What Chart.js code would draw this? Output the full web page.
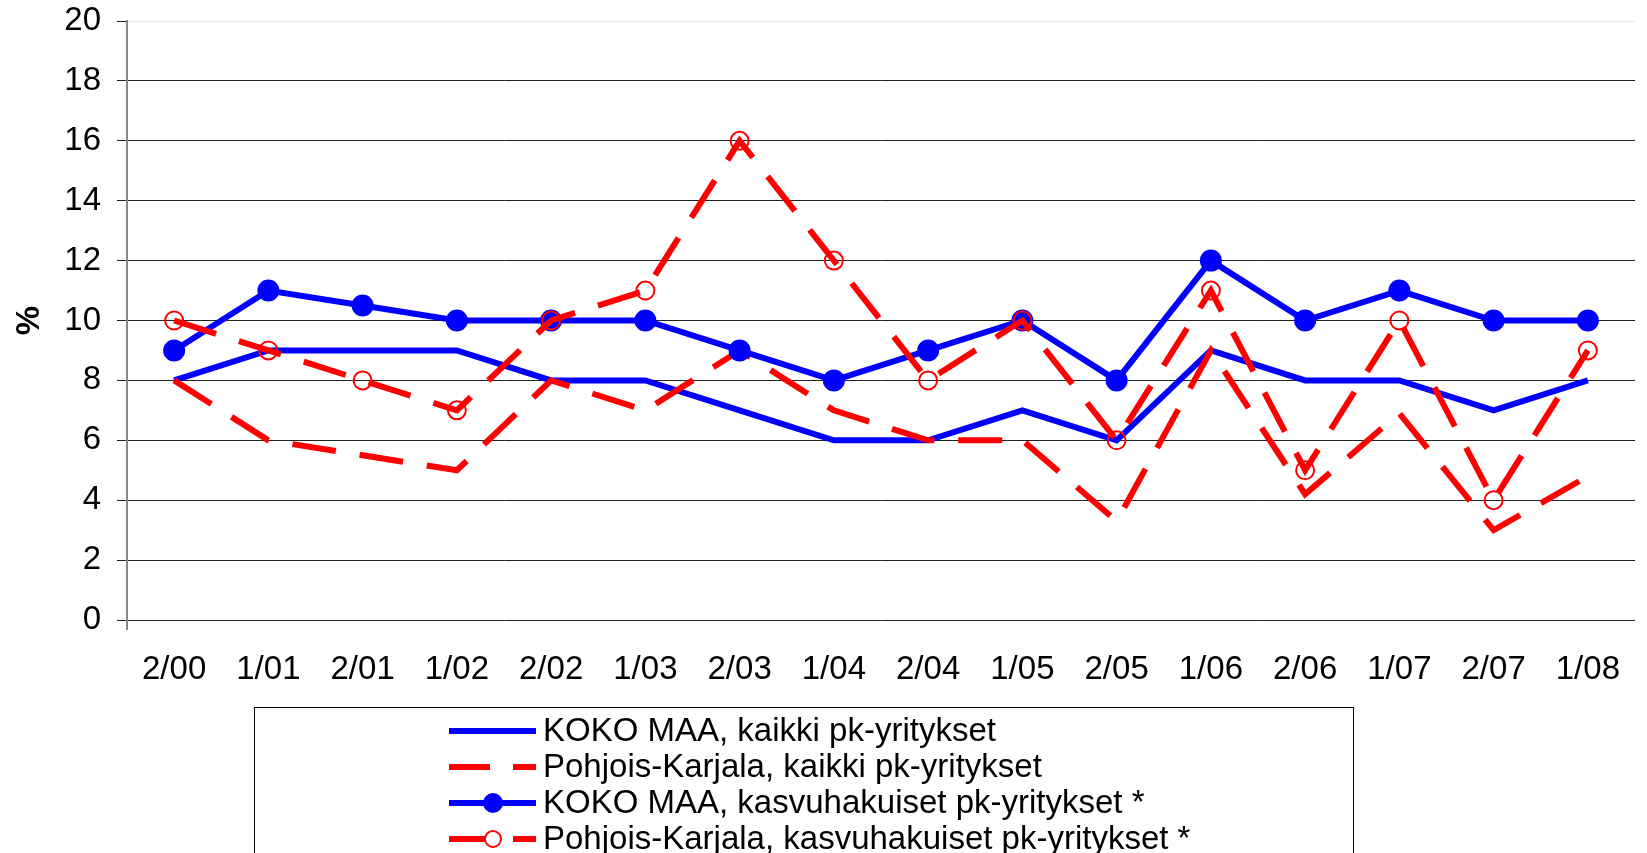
<!DOCTYPE html>
<html>
<head>
<meta charset="utf-8">
<script src="https://cdn.jsdelivr.net/npm/chart.js@4.4.1/dist/chart.umd.min.js"></script>
<style>
  html, body { margin: 0; padding: 0; background: #fff; overflow: hidden; }
  #wrap { width: 1647px; height: 853px; }
</style>
</head>
<body>
<div id="wrap"><canvas id="c" width="1647" height="853"></canvas></div>
<script>
const categories = ['2/00','1/01','2/01','1/02','2/02','1/03','2/03','1/04','2/04','1/05','2/05','1/06','2/06','1/07','2/07','1/08'];
const kokoMaaKaikki = [8, 9, 9, 9, 8, 8, 7, 6, 6, 7, 6, 9, 8, 8, 7, 8];
const pohjoisKarjalaKaikki = [8, 6, 5.5, 5, 8, 7, 9, 7, 6, 6, 3.3, 9, 4.2, 6.9, 3, 4.8];
const kokoMaaKasvu = [9, 11, 10.5, 10, 10, 10, 9, 8, 9, 10, 8, 12, 10, 11, 10, 10];
const pohjoisKarjalaKasvu = [10, 9, 8, 7, 10, 11, 16, 12, 8, 10, 6, 11, 5, 10, 4, 9];
const seriesLabels = [
  'KOKO MAA, kaikki pk-yritykset',
  'Pohjois-Karjala, kaikki pk-yritykset',
  'KOKO MAA, kasvuhakuiset pk-yritykset *',
  'Pohjois-Karjala, kasvuhakuiset pk-yritykset *'
];
const yAxisTitle = '%';
const yMin = 0, yMax = 20, yStep = 2;

const FONT = "'Liberation Sans', Arial, Helvetica, sans-serif";
const BLUE = '#0000ff';
const RED = '#ff0000';
const DASH = [44, 24];

const legendBox = {
  id: 'legendBox',
  afterDraw(chart) {
    const ctx = chart.ctx;
    ctx.save();
    ctx.strokeStyle = '#000';
    ctx.lineWidth = 1;
    ctx.strokeRect(254.5, 707.5, 1099, 200);
    const x0 = 449, x1 = 536, mx = 493, tx = 543;
    chart.data.datasets.forEach((ds, i) => {
      const y = 731 + 36 * i;
      ctx.save();
      ctx.strokeStyle = ds.borderColor;
      ctx.lineWidth = ds.borderWidth;
      ctx.lineCap = 'butt';
      ctx.setLineDash(ds.borderDash ? [41, 23] : []);
      ctx.beginPath();
      ctx.moveTo(x0, y);
      ctx.lineTo(x1, y);
      ctx.stroke();
      ctx.restore();
      if (ds.pointRadius > 0) {
        ctx.save();
        ctx.beginPath();
        ctx.arc(mx, y, ds.pointRadius - 1, 0, Math.PI * 2);
        if (ds.pointBackgroundColor && ds.pointBackgroundColor !== 'rgba(0,0,0,0)') {
          ctx.fillStyle = ds.pointBackgroundColor;
        } else {
          ctx.fillStyle = '#fff';
        }
        ctx.fill();
        ctx.lineWidth = ds.pointBorderWidth;
        ctx.strokeStyle = ds.pointBorderColor;
        ctx.stroke();
        ctx.restore();
      }
      ctx.fillStyle = '#000';
      ctx.font = '33px ' + FONT;
      ctx.textAlign = 'left';
      ctx.textBaseline = 'middle';
      ctx.fillText(ds.label, tx, y + 1);
    });
    ctx.restore();
  }
};

new Chart(document.getElementById('c'), {
  type: 'line',
  data: {
    labels: categories,
    datasets: [
      {
        label: seriesLabels[0], data: kokoMaaKaikki, order: 4,
        borderColor: BLUE, borderWidth: 6, pointRadius: 0, tension: 0, fill: false
      },
      {
        label: seriesLabels[1], data: pohjoisKarjalaKaikki, order: 3,
        borderColor: RED, borderWidth: 6, borderDash: DASH, pointRadius: 0, tension: 0, fill: false
      },
      {
        label: seriesLabels[2], data: kokoMaaKasvu, order: 2,
        borderColor: BLUE, borderWidth: 6, pointRadius: 10, pointBorderWidth: 2,
        pointBackgroundColor: BLUE, pointBorderColor: BLUE, tension: 0, fill: false
      },
      {
        label: seriesLabels[3], data: pohjoisKarjalaKasvu, order: 1,
        borderColor: RED, borderWidth: 6, borderDash: DASH, pointRadius: 9, pointBorderWidth: 2,
        pointBackgroundColor: 'rgba(0,0,0,0)', pointBorderColor: RED, tension: 0, fill: false
      }
    ]
  },
  options: {
    responsive: false,
    animation: false,
    devicePixelRatio: 1,
    layout: { padding: { top: 21, right: 2, left: 0, bottom: 0 } },
    plugins: {
      legend: { display: false },
      tooltip: { enabled: false },
      title: { display: false }
    },
    scales: {
      x: {
        type: 'category',
        offset: true,
        border: { display: false },
        grid: {
          display: true,
          offset: true,
          drawOnChartArea: false,
          drawTicks: true,
          tickLength: 10,
          lineWidth: 2,
          color: (c) => c.index === 0 ? '#888' : 'rgba(0,0,0,0)'
        },
        ticks: {
          color: '#000',
          font: { family: FONT, size: 33 },
          padding: 20,
          maxRotation: 0,
          autoSkip: false
        },
        afterFit: (s) => { s.height = 233; s.paddingLeft = 0; s.paddingRight = 0; }
      },
      y: {
        min: yMin, max: yMax,
        border: { display: true, color: '#888', width: 2 },
        grid: {
          color: (c) => (c.tick && c.tick.value === yMax) ? '#e8e8e8' : '#222',
          tickColor: '#222',
          lineWidth: 1,
          drawTicks: true,
          tickLength: 10
        },
        ticks: {
          stepSize: yStep,
          color: '#000',
          font: { family: FONT, size: 33 },
          padding: 16
        },
        title: {
          display: true,
          text: yAxisTitle,
          color: '#000',
          font: { family: FONT, size: 33, weight: 'bold' },
          padding: { top: 10, bottom: 0 }
        },
        afterFit: (s) => { s.width = 127; s.paddingTop = 0; s.paddingBottom = 0; }
      }
    }
  },
  plugins: [legendBox]
});
</script>
</body>
</html>
